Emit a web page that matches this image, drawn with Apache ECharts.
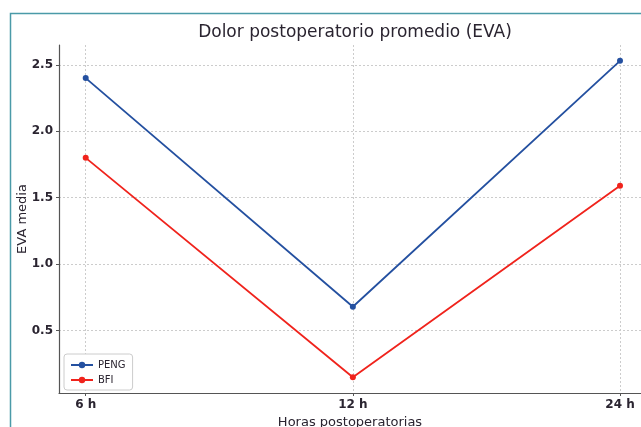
<!DOCTYPE html>
<html><head><meta charset="utf-8">
<script src="https://cdn.jsdelivr.net/npm/echarts@6/dist/echarts.min.js"></script>
<style>html,body{margin:0;padding:0;background:#fff}#c{width:641px;height:427px}</style>
</head><body><div id="c"></div>
<script>
const categories = ['6 h', '12 h', '24 h'];
const pengValues = [2.40, 0.68, 2.53];
const bfiValues = [1.80, 0.15, 1.59];
const yTicks = [0.5, 1.0, 1.5, 2.0, 2.5];

const chart = echarts.init(document.getElementById('c'), null, {renderer: 'canvas'});
const font = 'DejaVu Sans';
const toPts = arr => arr.map((v, i) => [i, v]);
chart.setOption({
  animation: false,
  backgroundColor: '#fff',
  title: {
    text: 'Dolor postoperatorio promedio (EVA)',
    left: 355, top: 24, textAlign: 'center', padding: 0,
    textStyle: {fontFamily: font, fontSize: 17, fontWeight: 'normal', color: '#2a2430'}
  },
  graphic: [{
    type: 'rect', shape: {x: 10.5, y: 13.5, width: 800, height: 600},
    style: {fill: 'none', stroke: '#4a9aa8', lineWidth: 1.5}, silent: true, z: 100
  }],
  grid: {left: 59, right: 0, top: 45, bottom: 34, containLabel: false, outerBoundsMode: 'none'},
  legend: {
    left: 64, top: 354, orient: 'vertical', itemGap: 5,
    itemWidth: 22, itemHeight: 8,
    backgroundColor: '#fff', borderColor: '#ccc', borderWidth: 1, borderRadius: 3,
    padding: [6, 7, 5, 6],
    textStyle: {fontFamily: font, fontSize: 10, color: '#2a2430'},
    data: ['PENG', 'BFI']
  },
  xAxis: {
    type: 'value', min: -0.1, max: 2.0786,
    name: 'Horas postoperatorias', nameLocation: 'middle', nameGap: 22,
    nameTextStyle: {fontFamily: font, fontSize: 13, color: '#2a2430'},
    axisLine: {show: true, onZero: false, lineStyle: {color: '#555', width: 1.2}},
    axisTick: {show: true, length: 3, customValues: [0, 1, 2], lineStyle: {color: '#555'}},
    axisLabel: {
      customValues: [0, 1, 2], margin: 6,
      formatter: v => categories[Math.round(v)] || '',
      fontFamily: font, fontSize: 12, fontWeight: 'bold', color: '#2a2430'
    },
    splitLine: {show: true, lineStyle: {color: '#ccc', type: [2, 2], width: 1}}
  },
  yAxis: {
    type: 'value', min: 0.031, max: 2.649,
    name: 'EVA media', nameLocation: 'middle', nameGap: 30, nameMoveOverlap: false,
    nameTextStyle: {fontFamily: font, fontSize: 13, color: '#2a2430'},
    axisLine: {show: true, onZero: false, lineStyle: {color: '#555', width: 1.2}},
    axisTick: {show: true, length: 3, customValues: yTicks, lineStyle: {color: '#555'}},
    axisLabel: {
      customValues: yTicks, margin: 6,
      formatter: v => v.toFixed(1),
      fontFamily: font, fontSize: 12, fontWeight: 'bold', color: '#2a2430'
    },
    splitLine: {show: true, lineStyle: {color: '#ccc', type: [2, 2], width: 1}}
  },
  series: [
    {name: 'PENG', type: 'line', data: toPts(pengValues), symbol: 'circle', symbolSize: 6,
     itemStyle: {color: '#2450a0'}, lineStyle: {color: '#2450a0', width: 1.8}},
    {name: 'BFI', type: 'line', data: toPts(bfiValues), symbol: 'circle', symbolSize: 6,
     itemStyle: {color: '#f0231c'}, lineStyle: {color: '#f0231c', width: 1.8}}
  ]
});
</script></body></html>
